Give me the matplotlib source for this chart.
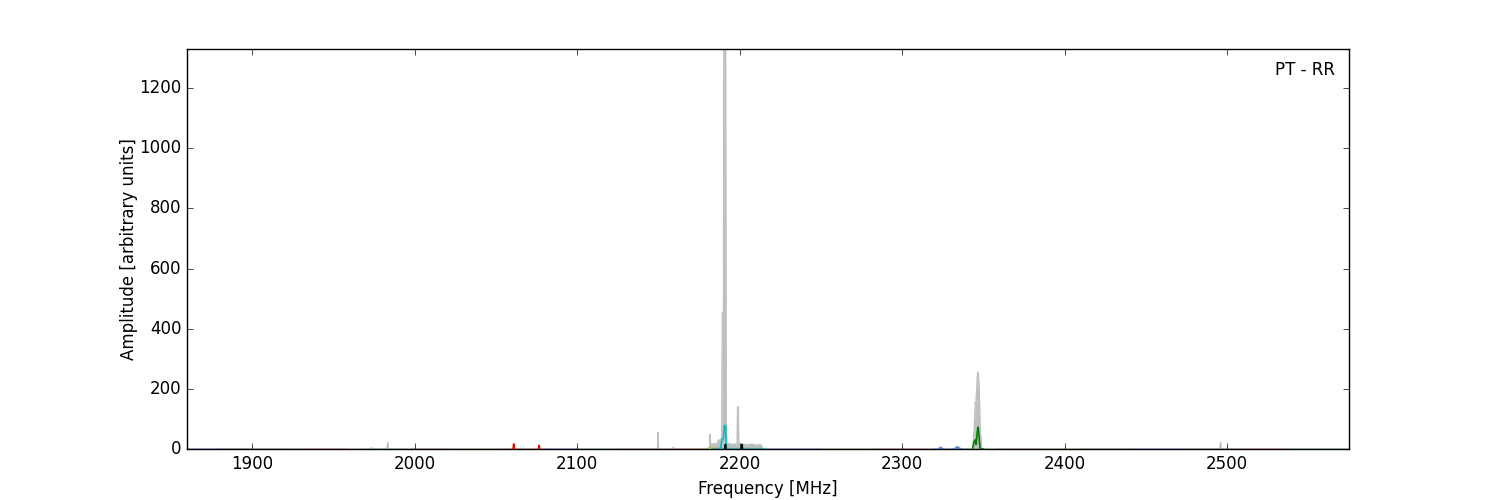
import matplotlib
matplotlib.use("Agg")
import matplotlib.pyplot as plt

plt.style.use("classic")

# ---- data -------------------------------------------------------------
# total-power spectrum (grey)
gray_freq = [1860, 1973, 1973.5, 1974, 1983, 1983.5, 1984, 2077, 2077.3, 2077.6,
             2149.5, 2149.8, 2150.1, 2159, 2159.3, 2159.6, 2181.5, 2181.8, 2182.2,
             2184, 2186, 2187, 2188, 2189.0, 2189.4, 2190.1, 2190.3, 2191.4, 2191.8,
             2194, 2196, 2198.5, 2198.8, 2199.2, 2199.5, 2202, 2205, 2208, 2210,
             2212, 2213.5, 2214, 2322, 2323.5, 2325, 2332, 2334, 2336, 2343.5,
             2344.5, 2345, 2345.5, 2346.3, 2346.8, 2347.5, 2348, 2349, 2495.5,
             2496, 2496.4, 2575]
gray_amp = [0, 0, 5, 0, 0, 22, 0, 0, 10, 0,
            0, 55, 0, 0, 6, 0, 0, 48, 15,
            18, 16, 30, 28, 40, 455, 455, 1330, 1330, 20,
            17, 15, 17, 140, 140, 16, 15, 14, 16, 12,
            15, 12, 0, 0, 8, 0, 0, 10, 0, 0,
            80, 155, 155, 240, 256, 200, 70, 0, 0,
            22, 0, 0]

# individual channels along the baseline: (start, end) and colour
chan_start = [1860, 1880, 1902, 1928, 1968, 1998, 2024, 2053, 2080, 2100, 2125,
              2155, 2168, 2180, 2218, 2252, 2282, 2318, 2340, 2358, 2385, 2410,
              2440, 2475, 2505, 2538]
chan_end = [1880, 1900, 1925, 1958, 1995, 2022, 2052, 2080, 2100, 2125, 2152,
            2178, 2181, 2216, 2250, 2282, 2315, 2340, 2352, 2385, 2410, 2440,
            2475, 2505, 2538, 2572]
chan_color = ["b", "k", "g", "r", "c", "m", "y", "r", "b", "c", "m",
              "r", "y", "c", "b", "y", "r", "b", "g", "m", "y", "g",
              "b", "g", "r", "c"]
chan_level = [1.5, 1, 1, 1.5, 1.5, 1.5, 1.5, 1.5, 1.5, 1.5, 1.5,
              1.5, 1.5, 2.5, 1.5, 1.5, 1.5, 1.5, 1.5, 1.5, 1.5, 1.5,
              1.5, 1.5, 1.5, 1.5]

# narrow features in individual channels
feat_freq = [[2060.6, 2061.0, 2061.4], [2076.2, 2076.5, 2076.8],
             [2181.2, 2181.6, 2182.0],
             [2188.3, 2189.1, 2190.1, 2190.6, 2191.4, 2191.9],
             [2191.0, 2191.3, 2191.6], [2201.2, 2201.5, 2201.8],
             [2322.5, 2324.0, 2325.5], [2332.0, 2334.0, 2336.5],
             [2343.3, 2344.3, 2345.0, 2345.6, 2346.3, 2346.8, 2347.4, 2348.0, 2349.8]]
feat_amp = [[0, 17, 0], [0, 12, 0],
            [0, 6, 0],
            [0, 30, 35, 78, 78, 0],
            [0, 15, 0], [0, 15, 0],
            [0, 4, 0], [0, 5, 0],
            [0, 25, 30, 15, 60, 73, 40, 2, 0]]
feat_color = ["r", "r", "y", "c", "k", "k", "#4a7fd0", "#4a7fd0", "g"]

x_ticks = [1900, 2000, 2100, 2200, 2300, 2400, 2500]
y_ticks = [0, 200, 400, 600, 800, 1000, 1200]

# ---- plot -------------------------------------------------------------
fig = plt.figure(figsize=(15, 5), dpi=100, facecolor="white")
ax = fig.add_subplot(111)
fig.subplots_adjust(left=0.1247, right=0.8993, bottom=0.102, top=0.902)

ax.fill_between(gray_freq, 0, gray_amp, color="0.75", lw=0, zorder=1)
ax.plot(gray_freq, gray_amp, color="0.75", lw=1, zorder=1)

for s, e, c, lv in zip(chan_start, chan_end, chan_color, chan_level):
    ax.plot([s, e], [lv, lv], color=c, lw=1, alpha=0.6, zorder=2)

for f, a, c in zip(feat_freq, feat_amp, feat_color):
    ax.plot(f, a, color=c, lw=1.2, zorder=3)

ax.set_xlim(1860, 2575)
ax.set_ylim(0, 1330)
ax.set_xticks(x_ticks)
ax.set_yticks(y_ticks)
ax.set_xlabel("Frequency [MHz]", fontsize=12)
ax.set_ylabel("Amplitude [arbitrary units]", fontsize=12, labelpad=1)
ax.tick_params(labelsize=12)
ax.text(0.988, 0.948, "PT - RR", transform=ax.transAxes, ha="right",
        va="center", fontsize=12)

fig.savefig("out.png", dpi=100, facecolor="white")
